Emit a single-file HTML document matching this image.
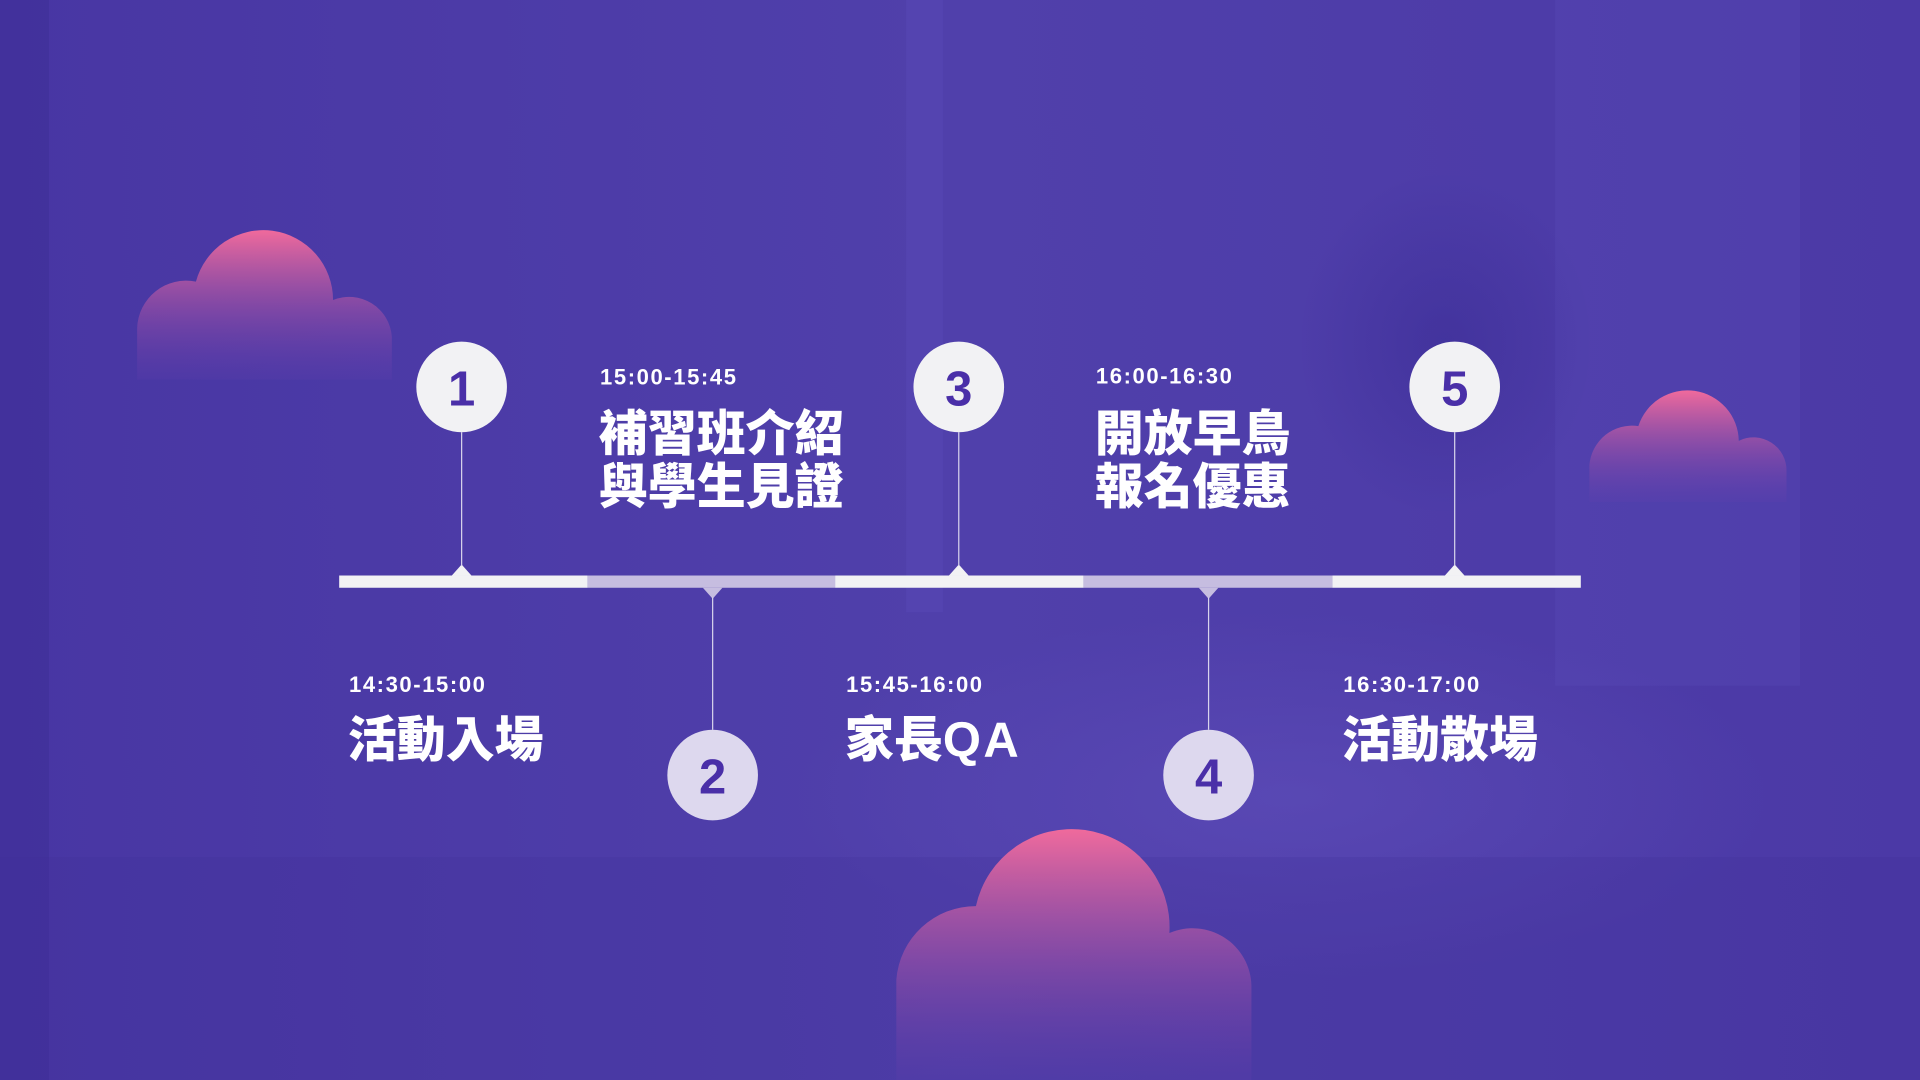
<!DOCTYPE html>
<html><head><meta charset="utf-8"><style>
html,body{margin:0;padding:0;width:1920px;height:1080px;overflow:hidden;background:#4f3ba6}
svg{display:block}
.t{font-family:"Liberation Sans",sans-serif;font-weight:700;fill:#fff;font-size:18px;letter-spacing:1.3px}
.h{font-family:"Liberation Sans","Noto Sans CJK TC",sans-serif;font-weight:900;fill:#fff;font-size:40px}
.q{font-family:"Liberation Sans",sans-serif;font-weight:700;font-size:40px;letter-spacing:2px}
.n{font-family:"Liberation Sans",sans-serif;font-weight:700;fill:#4a2fa8;font-size:40px;text-anchor:middle}
</style></head><body>
<svg width="1920" height="1080" viewBox="0 0 1568 882" preserveAspectRatio="none">
<defs>
<linearGradient id="bg" x1="0" y1="0" x2="1" y2="0">
<stop offset="0" stop-color="#4836a3"/><stop offset="0.5" stop-color="#5040ab"/><stop offset="1" stop-color="#4b39a6"/>
</linearGradient>
<linearGradient id="cl" x1="0" y1="0" x2="0" y2="1">
<stop offset="0" stop-color="#f06a9c"/><stop offset="1" stop-color="#6a3fae" stop-opacity="0.15"/>
</linearGradient>
<radialGradient id="glow" cx="0.5" cy="0.5" r="0.5"><stop offset="0" stop-color="#6352be" stop-opacity="0.5"/><stop offset="1" stop-color="#6352be" stop-opacity="0"/></radialGradient>
<radialGradient id="dark" cx="0.5" cy="0.5" r="0.5"><stop offset="0" stop-color="#2e2288" stop-opacity="0.35"/><stop offset="1" stop-color="#2e2288" stop-opacity="0"/></radialGradient>
</defs>
<rect width="1568" height="882" fill="url(#bg)"/>
<rect x="0" y="0" width="40" height="882" fill="#3f2f98" opacity="0.6"/>
<rect x="740" y="0" width="30" height="500" fill="#5a4ab8" opacity="0.4"/>
<rect x="1270" y="0" width="200" height="560" fill="#5a4ab8" opacity="0.35"/>
<ellipse cx="1180" cy="280" rx="120" ry="140" fill="url(#dark)"/>
<ellipse cx="1050" cy="650" rx="400" ry="150" fill="url(#glow)"/>
<rect x="0" y="700" width="1568" height="182" fill="#3f2f98" opacity="0.25"/>
<path d="M112,268 A40,40 0 0 1 160,230 A57,57 0 0 1 272,245 A35,35 0 0 1 320,275 L320,310 L112,310 Z" fill="url(#cl)"/>
<path d="M1298,380 A35,35 0 0 1 1338,348 A42,42 0 0 1 1420,360 A27,27 0 0 1 1459,385 L1459,410 L1298,410 Z" fill="url(#cl)"/>
<path d="M732,800 A65,65 0 0 1 797,740 A80,80 0 0 1 955,762 A48,48 0 0 1 1022,805 L1022,882 L732,882 Z" fill="url(#cl)"/>
<rect x="277" y="470" width="203" height="10" fill="#f2f2f4"/>
<rect x="480" y="470" width="202" height="10" fill="#c6bde0"/>
<rect x="682" y="470" width="203" height="10" fill="#f2f2f4"/>
<rect x="885" y="470" width="203" height="10" fill="#c6bde0"/>
<rect x="1088" y="470" width="203" height="10" fill="#f2f2f4"/>
<path d="M369,470 L377,461 L385,470Z M775,470 L783,461 L791,470Z M1180,470 L1188,461 L1196,470Z" fill="#f2f2f4"/>
<path d="M574,480 L582,489 L590,480Z M979,480 L987,489 L995,480Z" fill="#c6bde0"/>
<g stroke="#d8d4ec" stroke-width="1">
<line x1="377" y1="353" x2="377" y2="462"/><line x1="783" y1="353" x2="783" y2="462"/><line x1="1188" y1="353" x2="1188" y2="462"/>
<line x1="582" y1="488" x2="582" y2="596"/><line x1="987" y1="488" x2="987" y2="596"/>
</g>
<g fill="#f2f2f4">
<circle cx="377" cy="316" r="37"/><circle cx="783" cy="316" r="37"/><circle cx="1188" cy="316" r="37"/>
</g>
<g fill="#ddd8ee">
<circle cx="582" cy="633" r="37"/><circle cx="987" cy="633" r="37"/>
</g>
<text class="n" x="377" y="331">1</text><text class="n" x="783" y="331">3</text><text class="n" x="1188" y="331">5</text>
<text class="n" x="582" y="648">2</text><text class="n" x="987" y="648">4</text>
<text class="t" x="490" y="314">15:00-15:45</text>
<text class="h" x="489" y="368">補習班介紹</text>
<text class="h" x="489" y="411">與學生見證</text>
<text class="t" x="895" y="313">16:00-16:30</text>
<text class="h" x="894" y="368">開放早鳥</text>
<text class="h" x="894" y="411">報名優惠</text>
<text class="t" x="285" y="565">14:30-15:00</text>
<text class="h" x="284" y="618">活動入場</text>
<text class="t" x="691" y="565">15:45-16:00</text>
<text class="h" x="690" y="618">家長<tspan class="q">QA</tspan></text>
<text class="t" x="1097" y="565">16:30-17:00</text>
<text class="h" x="1096" y="618">活動散場</text>
</svg>
</body></html>
